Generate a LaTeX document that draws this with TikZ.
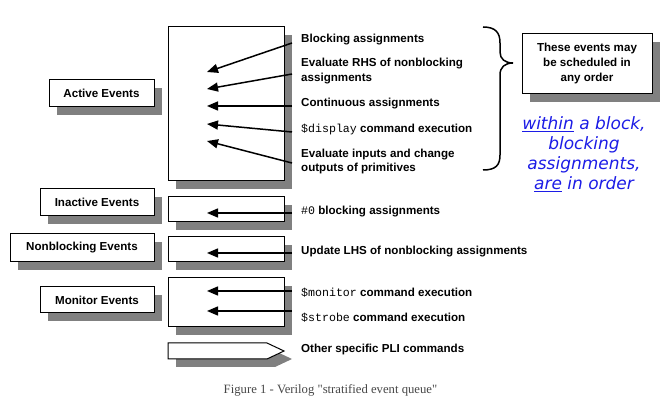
\documentclass[tikz,border=0pt]{standalone}
\usepackage{fontspec}
\setmainfont{Liberation Sans}
\newfontfamily\monof{Liberation Mono}
\newfontfamily\veraf{DejaVu Sans}
\newfontfamily\serff{Liberation Serif}
\usetikzlibrary{arrows.meta,shadows}
\definecolor{shadowgray}{RGB}{128,128,128}
\definecolor{noteblue}{RGB}{28,28,230}
\definecolor{capgray}{RGB}{70,70,70}
\begin{document}
\begin{tikzpicture}[x=1pt,y=-1pt,
  box/.style={draw=black, line width=1pt, fill=white, rectangle, inner sep=0pt,
    font=\bfseries\fontsize{11.6}{15}\selectfont, align=center,
    drop shadow={shadow xshift=8pt, shadow yshift=-8pt, fill=shadowgray, opacity=1}},
  lbl/.style={font=\bfseries\fontsize{11.6}{14.5}\selectfont, anchor=west, inner sep=0pt, align=left},
  arr/.style={-{Triangle[length=11pt,width=9pt]}, line width=1.5pt}
  ]
\useasboundingbox (0,0) rectangle (662,403);

% event queue boxes
\node[box, minimum width=116pt, minimum height=154pt] (active) at (226,104) {};
\node[box, minimum width=116pt, minimum height=25pt] (inactive) at (226,209.5) {};
\node[box, minimum width=116pt, minimum height=25pt] (nonblock) at (226,249.5) {};
\node[box, minimum width=116pt, minimum height=49pt] (monitor) at (226,302.5) {};

% PLI pentagon
\fill[shadowgray] (176,351) -- (275,351) -- (292,359) -- (275,367) -- (176,367) -- cycle;
\draw[line width=1pt, fill=white] (168,343) -- (267,343) -- (284,351) -- (267,359) -- (168,359) -- cycle;

% left labels
\node[box, minimum width=105pt, minimum height=27pt] (activelbl) at (101.5,93.5) {Active Events};
\node[box, minimum width=114pt, minimum height=27pt] (inactivelbl) at (97,202.5) {Inactive Events};
\node[box, minimum width=144pt, minimum height=28pt] (nonblocklbl) at (82,248) {Nonblocking Events};
\node[box, minimum width=114pt, minimum height=26pt] (monitorlbl) at (97,300) {Monitor Events};

% right note box
\node[box, minimum width=130pt, minimum height=60pt] (order) at (587,64) {These events may\\be scheduled in\\any order};

% texts
\node[lbl] (t1) at (301,39.5) {Blocking assignments};
\node[lbl] (t2) at (301,71) {Evaluate RHS of nonblocking\\assignments};
\node[lbl] (t3) at (301,104) {Continuous assignments};
\node[lbl] (t4) at (301,130) {{\monof\mdseries \$display} command execution};
\node[lbl] (t5) at (301,161.5) {Evaluate inputs and change\\outputs of primitives};
\node[lbl] (t6) at (301,212) {{\monof\mdseries \#0} blocking assignments};
\node[lbl] (t7) at (301,252) {Update LHS of nonblocking assignments};
\node[lbl] (t8) at (301,293) {{\monof\mdseries \$monitor} command execution};
\node[lbl] (t9) at (301,318) {{\monof\mdseries \$strobe} command execution};
\node[lbl] (t10) at (301,350) {Other specific PLI commands};

% arrow end points
\coordinate (a1s) at (292,43);  \coordinate (a1e) at (207,72);
\coordinate (a2s) at (292,74);  \coordinate (a2e) at (207,89);
\coordinate (a3s) at (292,106); \coordinate (a3e) at (207,106);
\coordinate (a4s) at (292,132); \coordinate (a4e) at (207,124);
\coordinate (a5s) at (292,163); \coordinate (a5e) at (207,141);
\coordinate (a6s) at (292,213); \coordinate (a6e) at (207,213);
\coordinate (a7s) at (292,253); \coordinate (a7e) at (207,253);
\coordinate (a8s) at (292,291); \coordinate (a8e) at (207,291);
\coordinate (a9s) at (292,311); \coordinate (a9e) at (207,311);
\foreach \i in {1,...,9} { \draw[arr] (a\i s) -- (a\i e); }

% brace
\draw[line width=1.5pt] (483,27) .. controls (496,27) and (500,33) .. (500,43)
  -- (500,52) .. controls (500,59) and (505,63) .. (513,63)
  .. controls (505,63) and (500,67) .. (500,75)
  -- (500,155) .. controls (500,165) and (496,170) .. (483,170);

% blue note
\node[font=\veraf\itshape\fontsize{17}{20}\selectfont, text=noteblue, align=center, inner sep=0pt] (note) at (584,154)
  {\underline{within} a block,\\blocking\\assignments,\\\underline{are} in order};

% caption
\node[font=\serff\fontsize{12.7}{15}\selectfont, text=capgray, inner sep=0pt] (cap) at (330.5,390)
  {Figure 1 - Verilog "stratified event queue"};
\end{tikzpicture}
\end{document}
